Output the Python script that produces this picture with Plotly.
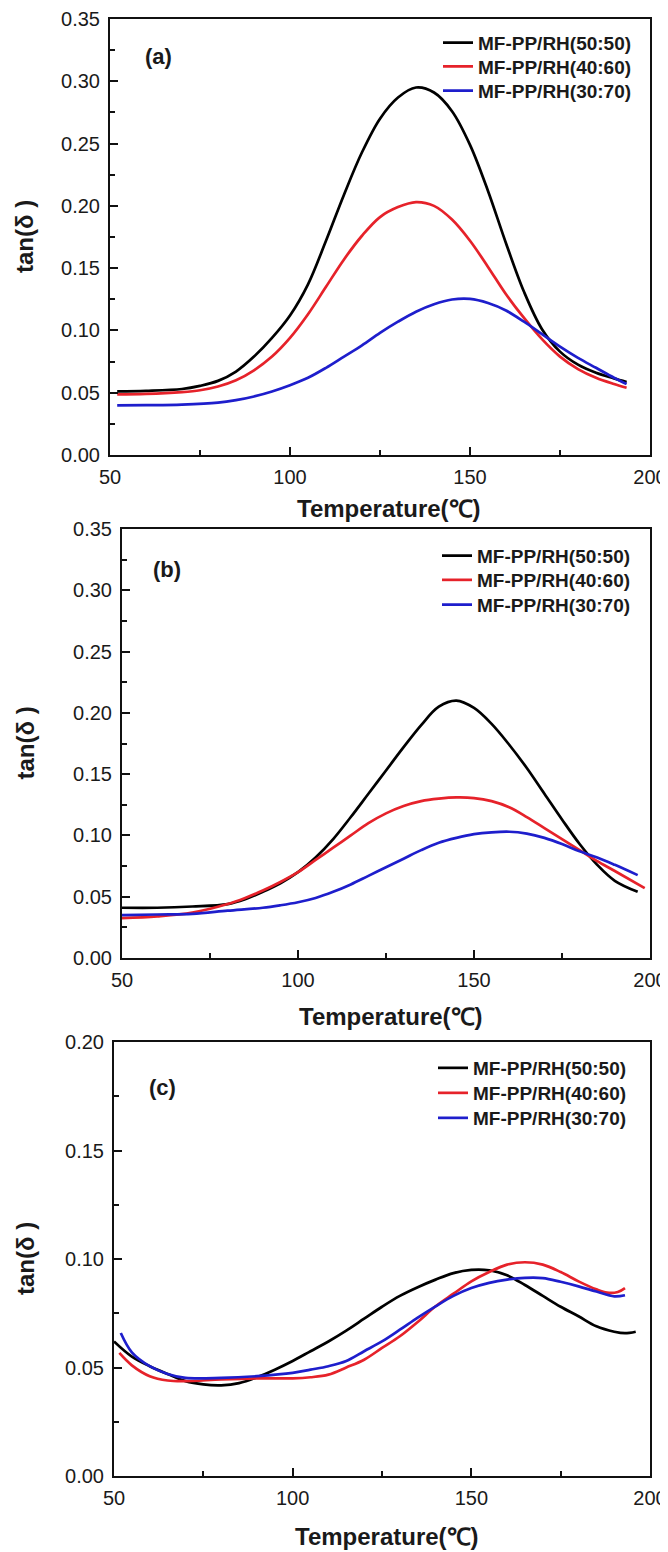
import plotly.graph_objects as go

# The page body has an 8 px margin, so the figure is drawn 8 px in from the top-left.
OFF = 8
W, H = 668 - OFF, 1552 - OFF

series_names = ["MF-PP/RH(50:50)", "MF-PP/RH(40:60)", "MF-PP/RH(30:70)"]
series_colors = ["#000000", "#e6222a", "#1e1ecc"]

# ---------- panel (a) ----------
t_a_5050 = [52, 60, 70, 75, 80, 85, 90, 95, 100, 105, 110, 115, 120, 125, 130, 135, 140, 145, 150, 155, 160, 165, 170, 175, 180, 185, 190, 193.5]
a_5050 = [0.051, 0.0515, 0.053, 0.0555, 0.0595, 0.067, 0.079, 0.094, 0.112, 0.137, 0.172, 0.209, 0.243, 0.270, 0.287, 0.295, 0.291, 0.276, 0.249, 0.212, 0.170, 0.131, 0.101, 0.083, 0.0725, 0.066, 0.0615, 0.0585]
t_a_4060 = [52, 60, 70, 75, 80, 85, 90, 95, 100, 105, 110, 115, 120, 125, 130, 135, 140, 145, 150, 155, 160, 165, 170, 175, 180, 185, 190, 193.5]
a_4060 = [0.0486, 0.049, 0.0505, 0.052, 0.055, 0.060, 0.068, 0.079, 0.094, 0.113, 0.135, 0.157, 0.176, 0.191, 0.199, 0.203, 0.200, 0.189, 0.172, 0.151, 0.129, 0.110, 0.093, 0.079, 0.069, 0.062, 0.057, 0.054]
t_a_3070 = [52, 60, 70, 80, 85, 90, 95, 100, 105, 110, 115, 120, 125, 130, 135, 140, 145, 150, 155, 160, 165, 170, 175, 180, 185, 190, 193.5]
a_3070 = [0.0398, 0.040, 0.0405, 0.042, 0.044, 0.047, 0.051, 0.056, 0.062, 0.070, 0.079, 0.088, 0.098, 0.107, 0.115, 0.121, 0.1248, 0.1253, 0.122, 0.116, 0.107, 0.097, 0.087, 0.078, 0.070, 0.062, 0.057]

# ---------- panel (b) ----------
t_b_5050 = [50, 60, 70, 80, 85, 90, 95, 100, 105, 110, 115, 120, 125, 130, 135, 140, 145, 150, 155, 160, 165, 170, 175, 180, 185, 190, 196.5]
b_5050 = [0.041, 0.041, 0.042, 0.044, 0.048, 0.054, 0.061, 0.070, 0.082, 0.097, 0.115, 0.134, 0.153, 0.172, 0.190, 0.205, 0.210, 0.204, 0.191, 0.174, 0.155, 0.134, 0.113, 0.093, 0.076, 0.063, 0.054]
t_b_4060 = [50, 60, 70, 80, 85, 90, 95, 100, 105, 110, 115, 120, 125, 130, 135, 140, 145, 150, 155, 160, 165, 170, 175, 180, 185, 190, 198.5]
b_4060 = [0.0326, 0.034, 0.037, 0.044, 0.049, 0.055, 0.062, 0.070, 0.080, 0.090, 0.100, 0.110, 0.118, 0.124, 0.128, 0.130, 0.131, 0.1305, 0.128, 0.123, 0.115, 0.106, 0.097, 0.088, 0.079, 0.071, 0.057]
t_b_3070 = [50, 60, 70, 80, 90, 95, 100, 105, 110, 115, 120, 125, 130, 135, 140, 145, 150, 155, 160, 165, 170, 175, 180, 185, 190, 196.5]
b_3070 = [0.035, 0.0355, 0.036, 0.0386, 0.041, 0.043, 0.0455, 0.049, 0.054, 0.060, 0.067, 0.074, 0.081, 0.088, 0.094, 0.098, 0.101, 0.1025, 0.103, 0.1015, 0.098, 0.093, 0.087, 0.082, 0.076, 0.0676]

# ---------- panel (c) ----------
t_c_5050 = [50, 55, 60, 65, 70, 75, 80, 85, 90, 95, 100, 105, 110, 115, 120, 125, 130, 135, 140, 145, 150, 155, 160, 165, 170, 175, 180, 185, 190, 193, 196]
c_5050 = [0.062, 0.055, 0.0506, 0.047, 0.0437, 0.0422, 0.0418, 0.0428, 0.0455, 0.049, 0.053, 0.0575, 0.062, 0.067, 0.0725, 0.078, 0.083, 0.087, 0.0905, 0.0935, 0.095, 0.0948, 0.0925, 0.088, 0.083, 0.078, 0.0736, 0.069, 0.0665, 0.0658, 0.0665]
t_c_4060 = [51.5, 55, 60, 65, 70, 80, 90, 100, 105, 110, 115, 120, 125, 130, 135, 140, 145, 150, 155, 160, 165, 170, 175, 180, 185, 188, 191, 193]
c_4060 = [0.0567, 0.051, 0.046, 0.044, 0.0437, 0.0445, 0.045, 0.045, 0.0455, 0.0467, 0.050, 0.0536, 0.059, 0.0644, 0.071, 0.0782, 0.084, 0.0897, 0.094, 0.0974, 0.0985, 0.0974, 0.094, 0.0897, 0.086, 0.0845, 0.0848, 0.0866]
t_c_3070 = [51.9, 55, 60, 65, 70, 80, 90, 100, 105, 110, 115, 120, 125, 130, 135, 140, 145, 150, 155, 160, 165, 170, 175, 180, 185, 190, 193]
c_3070 = [0.0659, 0.057, 0.0506, 0.047, 0.0452, 0.0452, 0.046, 0.0475, 0.049, 0.0506, 0.053, 0.0575, 0.062, 0.0674, 0.073, 0.0782, 0.083, 0.0866, 0.089, 0.0905, 0.0913, 0.0912, 0.0895, 0.0874, 0.085, 0.0828, 0.0833]

x_tickvals = [50, 100, 150, 200]
y_ticks_ab = [0.00, 0.05, 0.10, 0.15, 0.20, 0.25, 0.30, 0.35]
y_ticks_c = [0.00, 0.05, 0.10, 0.15, 0.20]
panel_labels = ["(a)", "(b)", "(c)"]
x_title = "Temperature(℃)"
y_title = "tan(δ )"

# layout geometry (page pixels)
panels = [
    dict(x0=110, x1=650, y0=19, y1=455, ymax=0.35, yt=y_ticks_ab,
         data=[(t_a_5050, a_5050), (t_a_4060, a_4060), (t_a_3070, a_3070)],
         lab=(158, 56), leg_x=438, leg_rows=[42.7, 66.5, 90.7], xt=(389, 508)),
    dict(x0=122, x1=650, y0=529, y1=958, ymax=0.35, yt=y_ticks_ab,
         data=[(t_b_5050, b_5050), (t_b_4060, b_4060), (t_b_3070, b_3070)],
         lab=(167, 570), leg_x=437, leg_rows=[555.7, 580, 604.7], xt=(391, 1016)),
    dict(x0=114, x1=650, y0=1042, y1=1476, ymax=0.20, yt=y_ticks_c,
         data=[(t_c_5050, c_5050), (t_c_4060, c_4060), (t_c_3070, c_3070)],
         lab=(162, 1087), leg_x=433, leg_rows=[1068, 1093, 1118], xt=(387, 1536)),
]


def px(x):
    return (x - OFF) / W


def py(y):
    return 1 - (y - OFF) / H


FONT = "Liberation Sans, Arial, sans-serif"
fig = go.Figure()
annotations = []
layout = dict(width=W, height=H, margin=dict(l=0, r=0, t=0, b=0),
              paper_bgcolor="white", plot_bgcolor="white",
              font=dict(family=FONT, color="#1a1a1a"))

k = 0
for i, p in enumerate(panels):
    n = "" if i == 0 else str(i + 1)
    xa, ya = "x" + n, "y" + n
    for j, ((tx, ty), name, col) in enumerate(zip(p["data"], series_names, series_colors)):
        k += 1
        legname = "legend" if k == 1 else "legend" + str(k)
        fig.add_trace(go.Scatter(x=tx, y=ty, mode="lines", name=name,
                                 line=dict(color=col, width=2.7, shape="spline", smoothing=1.0),
                                 xaxis=xa, yaxis=ya, legend=legname))
        layout[legname] = dict(x=px(p["leg_x"]), y=py(p["leg_rows"][j]),
                               xanchor="left", yanchor="middle", bgcolor="rgba(0,0,0,0)",
                               font=dict(size=19, family=FONT, color="#1a1a1a", weight="bold"),
                               itemwidth=30)
    axis_common = dict(showline=True, mirror=True, linecolor="#111", linewidth=2,
                       showgrid=False, zeroline=False, ticks="inside",
                       tickcolor="#111", tickwidth=2, ticklen=8,
                       tickfont=dict(size=20, family=FONT, color="#1a1a1a"),
                       automargin=False)
    layout["xaxis" + n] = dict(axis_common, domain=[px(p["x0"]), px(p["x1"])],
                               range=[50, 200], tickvals=x_tickvals,
                               anchor=ya, ticklabelstandoff=3,
                               minor=dict(ticks="inside", dtick=25, tick0=50, ticklen=5,
                                          tickwidth=1.5, tickcolor="#111"))
    layout["yaxis" + n] = dict(axis_common, domain=[py(p["y1"]), py(p["y0"])],
                               range=[0, p["ymax"]], tickvals=p["yt"], tickformat=".2f",
                               anchor=xa, ticklabelstandoff=4,
                               minor=dict(ticks="inside", dtick=0.025, tick0=0, ticklen=5,
                                          tickwidth=1.5, tickcolor="#111"))
    annotations.append(dict(text=panel_labels[i], x=px(p["lab"][0]), y=py(p["lab"][1]),
                            xref="paper", yref="paper", showarrow=False,
                            xanchor="center", yanchor="middle",
                            font=dict(size=22, family=FONT, color="#1a1a1a", weight="bold")))
    annotations.append(dict(text=x_title, x=px(p["xt"][0]), y=py(p["xt"][1]),
                            xref="paper", yref="paper", showarrow=False,
                            xanchor="center", yanchor="middle",
                            font=dict(size=24, family=FONT, color="#1a1a1a", weight="bold")))
    annotations.append(dict(text=y_title, x=px(25), y=py((p["y0"] + p["y1"]) / 2),
                            xref="paper", yref="paper", showarrow=False, textangle=-90,
                            xanchor="center", yanchor="middle",
                            font=dict(size=24, family=FONT, color="#1a1a1a", weight="bold")))

layout["annotations"] = annotations
layout["showlegend"] = True
fig.update_layout(**layout)
fig.write_html("out.html")
